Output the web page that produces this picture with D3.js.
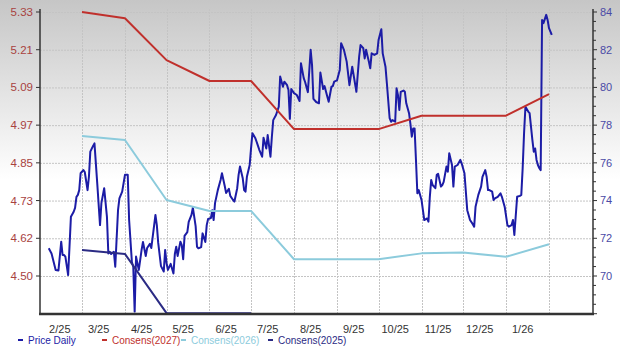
<!DOCTYPE html>
<html><head><meta charset="utf-8">
<script src="https://cdn.jsdelivr.net/npm/d3@7"></script>
<style>html,body{margin:0;padding:0;background:#fff;}svg{display:block;font-family:"Liberation Sans",Arial,sans-serif;}</style>
</head><body><svg id="c" width="620" height="346"></svg>
<script>
// ---------- data ----------
const priceDates = ["2025-02-05","2025-02-07","2025-02-10","2025-02-12","2025-02-14","2025-02-15","2025-02-16","2025-02-17","2025-02-19","2025-02-21","2025-02-23","2025-02-24","2025-02-25","2025-02-26","2025-02-27","2025-02-28",
"2025-03-02","2025-03-03","2025-03-05","2025-03-06","2025-03-07","2025-03-09","2025-03-10","2025-03-12","2025-03-14","2025-03-15","2025-03-17","2025-03-19","2025-03-20","2025-03-21","2025-03-22","2025-03-24","2025-03-25","2025-03-27","2025-03-28","2025-03-30",
"2025-04-01","2025-04-03","2025-04-04","2025-04-06","2025-04-07","2025-04-08","2025-04-09","2025-04-11","2025-04-13","2025-04-14","2025-04-16","2025-04-17","2025-04-19","2025-04-20","2025-04-23","2025-04-24","2025-04-25","2025-04-27","2025-04-29","2025-04-30",
"2025-05-01","2025-05-02","2025-05-04","2025-05-06","2025-05-07","2025-05-08","2025-05-09","2025-05-11","2025-05-12","2025-05-13","2025-05-14","2025-05-16","2025-05-17","2025-05-19","2025-05-20","2025-05-22","2025-05-23","2025-05-24","2025-05-26","2025-05-27","2025-05-29","2025-05-30","2025-05-31",
"2025-06-02","2025-06-03","2025-06-04","2025-06-05","2025-06-07","2025-06-09","2025-06-10","2025-06-12","2025-06-13","2025-06-15","2025-06-16","2025-06-18","2025-06-19","2025-06-21","2025-06-22","2025-06-23","2025-06-25","2025-06-26","2025-06-27","2025-06-28","2025-06-30",
"2025-07-01","2025-07-02","2025-07-04","2025-07-05","2025-07-06","2025-07-07","2025-07-09","2025-07-10","2025-07-12","2025-07-13","2025-07-15","2025-07-16","2025-07-17","2025-07-19","2025-07-21","2025-07-22","2025-07-24","2025-07-25","2025-07-27","2025-07-28","2025-07-29","2025-07-30",
"2025-08-01","2025-08-03","2025-08-05","2025-08-06","2025-08-08","2025-08-09","2025-08-11","2025-08-13","2025-08-14","2025-08-15","2025-08-17","2025-08-19","2025-08-20","2025-08-22","2025-08-23","2025-08-25","2025-08-26","2025-08-28","2025-08-29","2025-08-30",
"2025-09-01","2025-09-03","2025-09-04","2025-09-06","2025-09-08","2025-09-10","2025-09-12","2025-09-13","2025-09-15","2025-09-17","2025-09-18","2025-09-20","2025-09-21","2025-09-22","2025-09-24","2025-09-25","2025-09-26","2025-09-28","2025-09-30",
"2025-10-01","2025-10-03","2025-10-04","2025-10-06","2025-10-07","2025-10-09","2025-10-10","2025-10-11","2025-10-13","2025-10-14","2025-10-15","2025-10-16","2025-10-17","2025-10-19","2025-10-20","2025-10-21","2025-10-23","2025-10-24","2025-10-25","2025-10-26","2025-10-27","2025-10-28","2025-10-29","2025-10-30",
"2025-11-01","2025-11-03","2025-11-05","2025-11-06","2025-11-07","2025-11-08","2025-11-09","2025-11-11","2025-11-12","2025-11-13","2025-11-15","2025-11-16","2025-11-17","2025-11-19","2025-11-20","2025-11-21","2025-11-23","2025-11-24","2025-11-25","2025-11-27","2025-11-29","2025-11-30",
"2025-12-02","2025-12-04","2025-12-05","2025-12-06","2025-12-08","2025-12-09","2025-12-10","2025-12-12","2025-12-14","2025-12-15","2025-12-17","2025-12-18","2025-12-19","2025-12-20","2025-12-22","2025-12-23","2025-12-24","2025-12-26","2025-12-28","2025-12-29","2025-12-31",
"2026-01-02","2026-01-03","2026-01-05","2026-01-06","2026-01-07","2026-01-09","2026-01-11","2026-01-12","2026-01-13","2026-01-14","2026-01-15","2026-01-17","2026-01-18","2026-01-20","2026-01-21","2026-01-22","2026-01-23","2026-01-24","2026-01-25","2026-01-26","2026-01-27","2026-01-28","2026-01-30","2026-01-31","2026-02-01","2026-02-03"];
const priceValues = [4.587,4.571,4.519,4.517,4.608,4.566,4.566,4.561,4.503,4.686,4.702,4.714,4.749,4.755,4.770,4.823,
4.833,4.827,4.770,4.812,4.891,4.909,4.917,4.791,4.660,4.729,4.776,4.686,4.571,4.576,4.569,4.576,4.529,4.707,4.744,4.765,
4.818,4.818,4.676,4.544,4.529,4.388,4.561,4.519,4.582,4.607,4.563,4.588,4.601,4.588,4.692,4.660,4.604,4.531,4.514,4.582,
4.541,4.519,4.538,4.508,4.569,4.592,4.563,4.608,4.597,4.553,4.626,4.638,4.670,4.692,4.715,4.657,4.592,4.587,4.591,4.634,4.607,4.660,4.679,
4.682,4.707,4.676,4.729,4.770,4.802,4.823,4.783,4.761,4.774,4.752,4.739,4.734,4.776,4.818,4.844,4.807,4.770,4.765,4.812,4.849,
4.902,4.949,4.934,4.922,4.909,4.896,4.875,4.935,4.901,4.943,4.875,4.937,4.990,5.006,5.032,5.127,5.095,5.111,5.100,5.085,4.994,5.088,
5.075,5.069,5.050,5.169,5.122,5.110,5.078,5.211,5.163,5.057,5.047,5.043,5.140,5.088,5.097,5.064,5.048,5.095,5.097,5.111,
5.115,5.148,5.232,5.211,5.174,5.100,5.158,5.132,5.079,5.190,5.226,5.216,5.184,5.211,5.174,5.153,5.200,5.195,5.200,
5.242,5.276,5.200,5.158,5.106,4.996,4.985,4.990,4.985,5.090,5.069,5.022,5.079,5.083,5.079,5.043,5.012,4.978,4.938,4.964,4.964,4.865,4.760,4.770,
4.739,4.676,4.681,4.671,4.749,4.802,4.786,4.776,4.818,4.821,4.781,4.786,4.796,4.844,4.828,4.886,4.849,4.781,4.844,4.849,4.865,4.854,
4.823,4.707,4.692,4.676,4.663,4.655,4.718,4.755,4.781,4.812,4.833,4.812,4.770,4.770,4.765,4.739,4.744,4.749,4.760,4.749,4.718,
4.660,4.655,4.660,4.676,4.629,4.749,4.752,4.755,4.839,4.949,5.032,5.017,5.012,4.928,4.891,4.901,4.865,4.849,4.839,4.833,5.305,5.295,5.321,5.305,5.279,5.258];

const consensDates = ["2025-03-01","2025-04-01","2025-05-01","2025-06-01","2025-07-01","2025-08-01","2025-09-01","2025-10-01","2025-11-01","2025-12-01","2026-01-01","2026-02-01"];
const consens2027 = [84.00,83.67,81.45,80.34,80.34,77.79,77.79,77.79,78.50,78.50,78.50,79.65];
const consens2026 = [77.42,77.21,74.03,73.45,73.45,70.89,70.89,70.89,71.20,71.24,71.02,71.68];
const consens2025 = [71.38,71.17,68.03,68.03,68.03];

const monthStarts = ["2025-02-01","2025-03-01","2025-04-01","2025-05-01","2025-06-01","2025-07-01","2025-08-01","2025-09-01","2025-10-01","2025-11-01","2025-12-01","2026-01-01","2026-02-01"];
const monthLabels = ["2/25","3/25","4/25","5/25","6/25","7/25","8/25","9/25","10/25","11/25","12/25","1/26"];
const leftTickLabels = ["4.50","4.62","4.73","4.85","4.97","5.09","5.21","5.33"];
const rightTickLabels = ["70","72","74","76","78","80","82","84"];
const legendNames = ["Price Daily","Consens(2027)","Consens(2026)","Consens(2025)"];

// ---------- layout ----------
const svg = d3.select("#c");
const L = 40, R = 593, T = 9, B = 314;
const parse = d3.timeParse("%Y-%m-%d");
const x = d3.scaleTime().domain([parse("2025-02-01"), parse("2026-02-01")]).range([43.2, 549]);
const yL = d3.scaleLinear().domain([4.50, 5.33]).range([276, 12]);
const yR = d3.scaleLinear().domain([70, 84]).range([276, 12]);

const defs = svg.append("defs");
const g = defs.append("linearGradient").attr("id","bg").attr("x1",0).attr("y1",0).attr("x2",0).attr("y2",1);
g.append("stop").attr("offset","0").attr("stop-color","#c6c6c6");
g.append("stop").attr("offset","0.52").attr("stop-color","#ffffff");
g.append("stop").attr("offset","1").attr("stop-color","#ffffff");
defs.append("clipPath").attr("id","clip").append("rect").attr("x",L).attr("y",T).attr("width",R-L).attr("height",B-T+1);

svg.append("rect").attr("width",620).attr("height",346).attr("fill","url(#bg)");

// grid
const leftTickVals = leftTickLabels.map((s,i)=> 4.50 + i*(5.33-4.50)/(leftTickLabels.length-1));
svg.append("g").selectAll("line").data(leftTickVals).join("line")
  .attr("x1",L).attr("x2",R).attr("y1",d=>yL(d)+0.5).attr("y2",d=>yL(d)+0.5)
  .attr("stroke","#c4c4c4").attr("stroke-width",1).attr("stroke-dasharray","2,1");
svg.append("g").selectAll("line").data(monthStarts.slice(1)).join("line")
  .attr("x1",d=>Math.round(x(parse(d)))+0.5).attr("x2",d=>Math.round(x(parse(d)))+0.5)
  .attr("y1",T).attr("y2",B)
  .attr("stroke","#c4c4c4").attr("stroke-width",1).attr("stroke-dasharray","2,1");

// lines
const plot = svg.append("g").attr("clip-path","url(#clip)");
const priceData = priceDates.map((d,i)=>({d:parse(d), v:priceValues[i]}));
plot.append("path").datum(priceData)
  .attr("d", d3.line().x(p=>x(p.d)).y(p=>yL(p.v)))
  .attr("fill","none").attr("stroke","#1c1ca6").attr("stroke-width",2).attr("stroke-linejoin","round");
function consLine(vals, color, w){
  const data = vals.map((v,i)=>({d:parse(consensDates[i]), v}));
  plot.append("path").datum(data)
    .attr("d", d3.line().x(p=>x(p.d)).y(p=>yR(p.v)))
    .attr("fill","none").attr("stroke",color).attr("stroke-width",w).attr("stroke-linejoin","round");
}
consLine(consens2026, "#8ccbdc", 2);
consLine(consens2027, "#c0302c", 2);
consLine(consens2025, "#2b2b84", 2);

// axes
svg.append("line").attr("x1",L).attr("x2",L).attr("y1",T).attr("y2",B).attr("stroke","#333").attr("stroke-width",1.5);
svg.append("line").attr("x1",R).attr("x2",R).attr("y1",T).attr("y2",B).attr("stroke","#333").attr("stroke-width",1.5);
svg.append("line").attr("x1",L-1).attr("x2",R+1).attr("y1",B).attr("y2",B).attr("stroke","#333").attr("stroke-width",2.5);

// left ticks & labels
const lg = svg.append("g");
lg.selectAll("line").data(leftTickVals).join("line")
  .attr("x1",L-4).attr("x2",L).attr("y1",d=>yL(d)).attr("y2",d=>yL(d)).attr("stroke","#333");
lg.selectAll("text").data(leftTickVals).join("text")
  .attr("x",33).attr("y",d=>yL(d)).attr("dy","0.35em").attr("text-anchor","end")
  .attr("font-size",11.5).attr("fill","#a8423f").text((d,i)=>leftTickLabels[i]);

// right ticks & labels
const rg = svg.append("g");
rg.selectAll("line").data(d3.range(68, 84.01, 0.5)).join("line")
  .attr("x1",R).attr("x2",d=> (d%2===0)? R+4 : R+3).attr("y1",d=>yR(d)).attr("y2",d=>yR(d)).attr("stroke","#333");
rg.selectAll("text").data(rightTickLabels).join("text")
  .attr("x",600).attr("y",d=>yR(+d)).attr("dy","0.35em").attr("text-anchor","start")
  .attr("font-size",11).attr("fill","#4a4aa6").text(d=>d);

// x labels
svg.append("g").selectAll("text").data(monthLabels).join("text")
  .attr("x",(d,i)=> x(d3.timeDay.offset(parse(monthStarts[i]), 12)))
  .attr("y",329).attr("dy","0.35em").attr("text-anchor","middle")
  .attr("font-size",11).attr("fill","#333").text(d=>d);

// legend
const legColors = ["#1c1ca6","#c0302c","#8ccbdc","#2b2b84"];
const legX = [18, 102, 181, 268];
const leg = svg.append("g");
legendNames.forEach((n,i)=>{
  leg.append("rect").attr("x",legX[i]).attr("y",339).attr("width",5).attr("height",2).attr("fill",legColors[i]);
  leg.append("text").attr("x",legX[i]+10).attr("y",340).attr("dy","0.35em").attr("font-size",10).attr("fill",legColors[i]).text(n);
});
</script></body></html>
